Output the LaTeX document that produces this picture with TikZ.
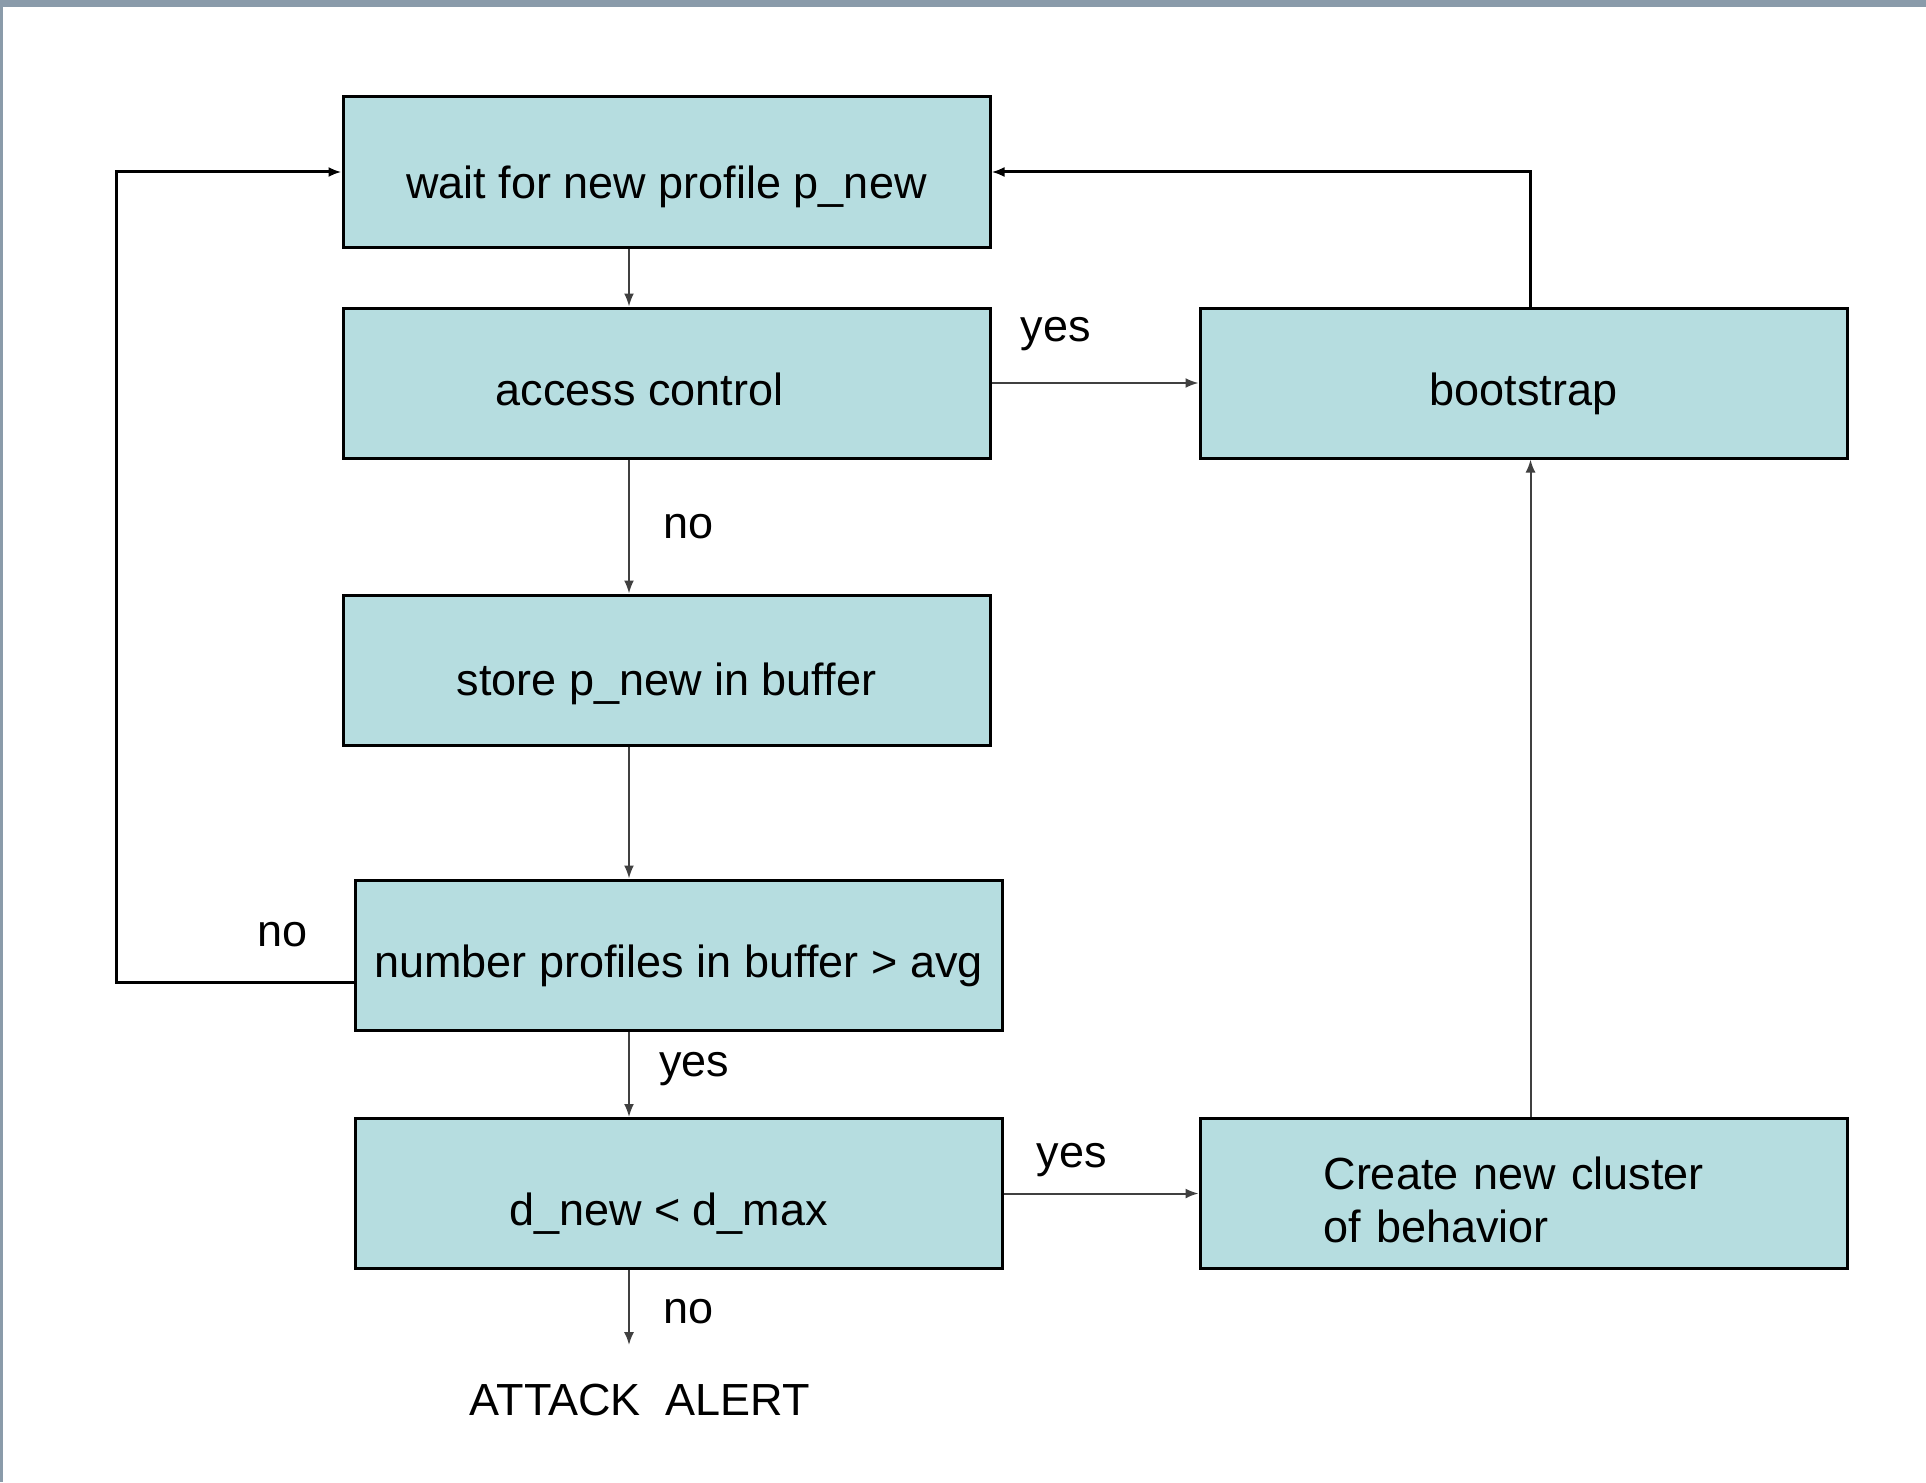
\documentclass[tikz,border=0pt]{standalone}
\usepackage{fontspec}
\setmainfont{Liberation Sans}
\usetikzlibrary{arrows.meta,positioning}
\definecolor{boxfill}{RGB}{182,221,224}
\definecolor{framegray}{RGB}{138,155,170}
\begin{document}
\begin{tikzpicture}[x=1pt,y=-1pt,
  stepbox/.style={draw=black, line width=3pt, fill=boxfill, rectangle,
    inner sep=0pt, minimum width=647pt, minimum height=150pt,
    font=\fontsize{45pt}{53pt}\selectfont, text height=47pt, text depth=3pt},
  lbl/.style={font=\fontsize{45pt}{53pt}\selectfont, inner sep=0pt},
  flow/.style={draw=black!75, line width=2pt, -{Latex[length=13pt,width=10pt]}},
  back/.style={draw=black, line width=3pt, -{Latex[length=13pt,width=10pt]}},
]
% page and frame strips
\useasboundingbox (0,0) rectangle (1926,1482);
\fill[white] (0,0) rectangle (1926,1482);
\fill[framegray] (0,0) rectangle (1926,7);
\fill[framegray] (0,0) rectangle (2.5,1482);

% vertical rail of the main flow
\coordinate (spine) at (629,0);

% process boxes
\node[stepbox, text height=55pt] (wait) at (666.5,172) {wait for new profile p\_new};
\node[stepbox] (access) at (666.5,383) {\hspace*{-54pt}access control};
\node[stepbox, text height=53pt] (store) at (666.5,670) {store p\_new in buffer};
\node[stepbox] (number) at (678.5,955) {number profiles in buffer > avg};
\node[stepbox, text height=67pt] (dnew) at (678.5,1193.5) {\hspace*{-20pt}d\_new < d\_max};
\node[stepbox] (boot) at (1523.5,383) {bootstrap};
\node[stepbox, align=left, text width=400pt, text height={}, text depth=41pt] (create) at (1523.5,1193.5)
  {Create new cluster\\of behavior};
\node[lbl, outer ysep=39pt] (alert) at (640,1400) {ATTACK\ \ ALERT};

% main flow
\draw[flow] (spine |- wait.south) -- (spine |- access.north);
\draw[flow] (spine |- access.south) -- node[lbl, right=33pt] {no} (spine |- store.north);
\draw[flow] (spine |- store.south) -- (spine |- number.north);
\draw[flow] (spine |- number.south) -- node[lbl, right=29pt, yshift=5pt] {yes} (spine |- dnew.north);
\draw[flow] (spine |- dnew.south) -- node[lbl, right=33pt, yshift=-4.5pt] {no} (spine |- alert.north);

% branches to the right
\draw[flow] (access.east) -- node[lbl, pos=0.31, yshift=49pt] {yes} (boot.west);
\draw[flow] (dnew.east) -- node[lbl, pos=0.35, yshift=33pt] {yes} (create.west);
\draw[flow] ([xshift=7pt]create.north) -- ([xshift=7pt]boot.south);

% feedback loops
\draw[back] ([xshift=7pt]boot.north) |- (wait.east);
\draw[back] ([yshift=-27pt]number.west) -- node[lbl, pos=0.3, yshift=47pt] {no} ++(-237,0) |- (wait.west);
\end{tikzpicture}
\end{document}
